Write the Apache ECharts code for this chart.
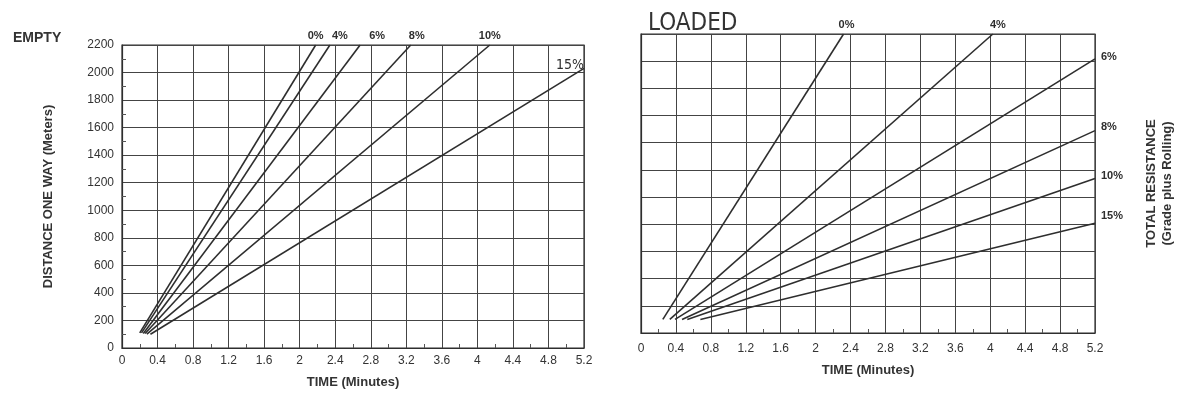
<!DOCTYPE html>
<html>
<head>
<meta charset="utf-8">
<script src="https://cdn.jsdelivr.net/npm/echarts@6/dist/echarts.min.js"></script>
<style>
  html, body { margin: 0; background: #fff; }
  #main { width: 1179px; height: 400px; }
</style>
</head>
<body>
<div id="main"></div>
<script>
// axis ranges (time in minutes, distance in meters)
const timeMax = 5.2, timeStep = 0.4;
const distMax = 2200, distStep = 200;

const grades = ['0%', '4%', '6%', '8%', '10%', '15%'];

// EMPTY chart: [time, distance] start and end of each grade line
const emptyLines = [
  [[0.20, 110], [2.18, 2200]],
  [[0.22, 110], [2.34, 2200]],
  [[0.24, 105], [2.68, 2200]],
  [[0.26, 105], [3.25, 2200]],
  [[0.28, 100], [4.14, 2200]],
  [[0.32, 100], [5.20, 2030]]
];

// LOADED chart
const loadedLines = [
  [[0.25, 100], [2.32, 2200]],
  [[0.33, 100], [4.03, 2200]],
  [[0.39, 100], [5.20, 2017]],
  [[0.47, 100], [5.20, 1489]],
  [[0.53, 100], [5.20, 1137]],
  [[0.68, 100], [5.20, 807]]
];

const ink = '#2e2e2e';
const font = 'Liberation Sans';

// where each grade label sits relative to the end of its line
const emptyLabelPos = [
  { position: 'top', offset: [0, 0] },
  { position: 'top', offset: [10, 0] },
  { position: 'top', offset: [17, 0] },
  { position: 'top', offset: [6, 0] },
  { position: 'top', offset: [0, 0] },
  { position: 'top', offset: [-14, 8], hand: true }
];
const loadedLabelPos = [
  { position: 'top', offset: [3, 0] },
  { position: 'top', offset: [5, 0] },
  { position: 'right', offset: [0, -2] },
  { position: 'right', offset: [0, -4] },
  { position: 'right', offset: [0, -3] },
  { position: 'right', offset: [0, -7] }
];

function makeSeries(lines, posList, gridIdx) {
  return lines.map((pts, i) => {
    const p = posList[i];
    const lab = {
      show: true,
      formatter: grades[i],
      position: p.position,
      distance: p.position === 'top' ? 4 : 6,
      offset: p.offset,
      color: ink,
      fontSize: p.hand ? 14 : 11,
      fontWeight: p.hand ? 'normal' : 'bold',
      fontFamily: p.hand ? 'DejaVu Sans Condensed' : font
    };
    return {
      type: 'line',
      xAxisIndex: gridIdx,
      yAxisIndex: gridIdx,
      data: pts.map((pt, j) => j === pts.length - 1 ? { value: pt, label: lab } : pt),
      symbol: 'circle',
      symbolSize: 0,
      showSymbol: true,
      label: { show: false },
      lineStyle: { color: ink, width: 1.6 },
      silent: true
    };
  });
}

function timeAxis(gridIdx, nameGap, labelMargin) {
  return {
    type: 'value',
    gridIndex: gridIdx,
    min: 0, max: timeMax, interval: timeStep,
    axisLine: { show: true, lineStyle: { color: ink, width: 1.2 } },
    axisTick: { show: true, inside: true, length: 0 },
    minorTick: { show: true, splitNumber: 2, length: 4, lineStyle: { color: '#555' } },
    axisLabel: { margin: labelMargin, color: '#333', fontSize: 12, fontFamily: font },
    splitLine: { show: true, lineStyle: { color: '#444', width: 1 } },
    name: 'TIME (Minutes)',
    nameLocation: 'middle',
    nameGap: nameGap,
    nameTextStyle: { color: '#333', fontSize: 13, fontWeight: 'bold', fontFamily: font }
  };
}

const chart = echarts.init(document.getElementById('main'));

chart.setOption({
  animation: false,
  backgroundColor: '#fff',
  title: [
    { text: 'EMPTY', left: 8, top: 26,
      textStyle: { color: '#333', fontSize: 14, fontWeight: 'bold', fontFamily: font } },
    { text: 'LOADED', left: 643, top: 7,
      textStyle: { color: '#333', fontSize: 24, fontWeight: 'normal', fontFamily: 'DejaVu Sans Condensed' } }
  ],
  grid: [
    { left: 122, right: 595, top: 45, bottom: 52, show: true, borderColor: ink, borderWidth: 1.2 },
    { left: 641, right: 84, top: 34, bottom: 67, show: true, borderColor: ink, borderWidth: 1.2 }
  ],
  xAxis: [timeAxis(0, 28, 7), timeAxis(1, 31, 10)],
  yAxis: [
    {
      type: 'value', gridIndex: 0,
      min: 0, max: distMax, interval: distStep,
      axisLine: { show: true, lineStyle: { color: ink, width: 1.2 } },
      axisTick: { show: true, inside: true, length: 0 },
      minorTick: { show: true, splitNumber: 2, length: 4, lineStyle: { color: '#555' } },
      axisLabel: { margin: 8, color: '#333', fontSize: 12, fontFamily: font, formatter: v => String(v) },
      splitLine: { show: true, lineStyle: { color: '#444', width: 1 } },
      name: 'DISTANCE ONE WAY (Meters)',
      nameLocation: 'middle',
      nameRotate: 90,
      nameGap: 67,
      nameTextStyle: { color: '#333', fontSize: 13, fontWeight: 'bold', fontFamily: font }
    },
    {
      type: 'value', gridIndex: 1, position: 'right',
      min: 0, max: distMax, interval: distStep,
      axisLine: { show: true, lineStyle: { color: ink, width: 1.2 } },
      axisTick: { show: false },
      axisLabel: { show: false },
      splitLine: { show: true, lineStyle: { color: '#444', width: 1 } },
      name: 'TOTAL RESISTANCE\n(Grade plus Rolling)',
      nameLocation: 'middle',
      nameRotate: 90,
      nameGap: 48,
      nameTextStyle: { color: '#333', fontSize: 13, fontWeight: 'bold', fontFamily: font, lineHeight: 16 }
    }
  ],
  series: makeSeries(emptyLines, emptyLabelPos, 0).concat(makeSeries(loadedLines, loadedLabelPos, 1))
});
</script>
</body>
</html>
